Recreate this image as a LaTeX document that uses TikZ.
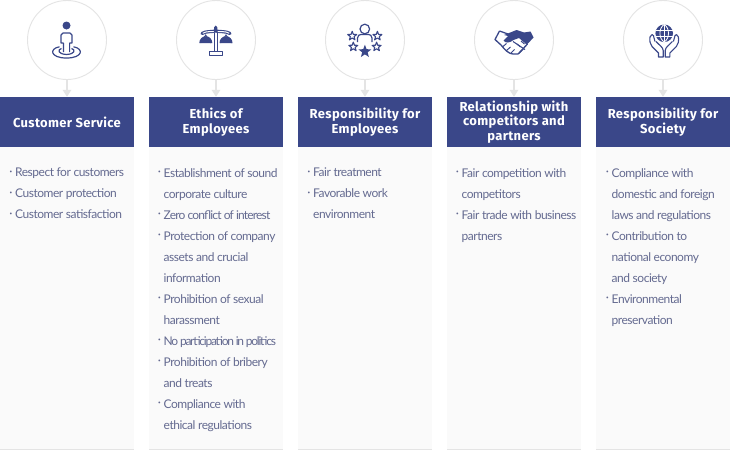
\documentclass[tikz,border=0pt]{standalone}
\usepackage{fontspec}
\setmainfont{Lato}[LetterSpace=-4]
\newfontfamily\headfont{Fira Sans}[LetterSpace=2.6]
\newfontfamily\tightfont{Lato}[LetterSpace=-10.5]
\usetikzlibrary{arrows.meta}
\definecolor{navy}{HTML}{3A4789}
\definecolor{ringgray}{HTML}{E4E4E4}
\definecolor{panelgray}{HTML}{FAFAFA}
\definecolor{bodytxt}{HTML}{646A90}
\newcommand{\bul}{\leavevmode\llap{\raisebox{1.5pt}{·}\hspace{2.6pt}}}
\tikzset{
  x=1pt,y=-1pt,
  ring/.style={circle,draw=ringgray,line width=.9pt,fill=white,minimum size=79pt,inner sep=0pt},
  headbox/.style={fill=navy,text=white,minimum width=134pt,minimum height=50pt,inner sep=0pt,align=center,
     font=\headfont\bfseries\fontsize{13}{14.5}\selectfont},
  panel/.style={fill=panelgray,minimum width=134pt,minimum height=303pt,inner sep=0pt},
  link/.style={draw=ringgray,line width=1.6pt,-{Triangle[length=7pt,width=8.5pt]}},
  bodytext/.style={anchor=north west,inner sep=0pt,align=left,text=bodytxt,
     font=\fontsize{12}{21}\selectfont},
  ico/.style={draw=navy,line width=1.2pt,fill=none,line join=round},
  pics/starmark/.style={code={
    \path[pic actions] (90:#1) -- (126:.42*#1) -- (162:#1) -- (198:.42*#1) -- (234:#1)
      -- (270:.42*#1) -- (306:#1) -- (342:.42*#1) -- (18:#1) -- (54:.42*#1) -- cycle;
  }},
}
\begin{document}
\begin{tikzpicture}
\useasboundingbox (0,0) rectangle (730,450);
\fill[white] (0,0) rectangle (730,450);
% panels
\foreach \n/\x in {a/67,b/216,c/365,d/514,e/663}{
  \node[panel] (panel\n) at (\x,298.5) {};
  \draw[ringgray,line width=.8pt] (\x-67,449.6) -- (\x+67,449.6);
}
% headers
\node[headbox] (ha) at (67,122) {Customer Service};
\node[headbox] (hb) at (216,122) {Ethics of\\Employees};
\node[headbox] (hc) at (365,122) {Responsibility for\\Employees};
\node[headbox] (hd) at (514,122) {Relationship with\\competitors and\\partners};
\node[headbox] (he) at (663,122) {Responsibility for\\Society};
% circles
\node[ring] (ca) at (67,40) {};
\node[ring] (cb) at (216,40) {};
\node[ring] (cc) at (365,40) {};
\node[ring] (cd) at (514,40) {};
\node[ring] (ce) at (663,40) {};
\foreach \n in {a,b,c,d,e}{ \draw[link] (c\n) -- (h\n); }
% body
\node[bodytext] (ta) at (15,168) {\bul Respect for customers\\\bul Customer protection\\\bul Customer satisfaction};
\node[bodytext] (tb) at (163.5,168) {\bul Establishment of sound\\corporate culture\\\bul {\addfontfeature{LetterSpace=-7}Zero conflict of interest}\\\bul Protection of company\\assets and crucial\\information\\\bul Prohibition of sexual\\harassment\\\bul {\tightfont No participation in politics}\\\bul Prohibition of bribery\\and treats\\\bul Compliance with\\ethical regulations};
\node[bodytext] (tc) at (313,168) {\bul Fair treatment\\\bul Favorable work\\environment};
\node[bodytext] (td) at (461.5,168) {\bul Fair competition with\\competitors\\\bul Fair trade with business\\partners};
\node[bodytext] (te) at (611.5,168) {\bul Compliance with\\domestic and foreign\\laws and regulations\\\bul Contribution to\\national economy\\and society\\\bul Environmental\\preservation};
% icon a: person on rings
\fill[navy] (66.5,25.5) circle (4);
\draw[ico] (63.4,52) -- (63.4,43) -- (61,43) -- (61,35) -- (63,33) -- (70,33) -- (72,35) -- (72,43) -- (69.6,43) -- (69.6,52);
\draw[ico] (61.5,48.5) .. controls (57.5,49.5) and (57.5,54) .. (66.5,54.5) .. controls (75.5,54) and (75.5,49.5) .. (71.5,48.5);
\draw[ico] (59.5,46.8) .. controls (49,48.5) and (50,58) .. (66.5,58) .. controls (83,58) and (84,48.5) .. (73.5,46.8);
% icon b: scales
\fill[navy] (214,27.5) -- (215.7,25.5) -- (217.4,27.5) -- (217.4,31) -- (214,31) -- cycle;
\draw[navy,line width=3.2pt,line cap=round] (202,33.5) .. controls (206,31) and (211,32) .. (215.7,31) .. controls (220,32) and (226,31) .. (230,33.5);
\draw[white,line width=1pt,line cap=round] (203,33.2) .. controls (206,31) and (211,32) .. (213.5,31.6) (218,31.6) .. controls (221,32) and (226,31) .. (229,33.2);
\draw[ico] (214.3,33) -- (214.3,51.7) (217.3,33) -- (217.3,51.7);
\draw[ico] (209.5,51.7) rectangle (222.3,55.3);
\draw[navy,line width=.9pt] (200.5,43) -- (205.7,35) -- (211,43) (220.5,43) -- (226,35) -- (231.5,43);
\fill[navy] (199.3,43) -- (212.3,43) arc[start angle=0,end angle=-180,x radius=6.5,y radius=6.8] -- cycle;
\fill[navy] (219.5,43) -- (232.5,43) arc[start angle=0,end angle=-180,x radius=6.5,y radius=6.8] -- cycle;
% icon c: person and stars
\draw[ico] (364.8,29) circle (4.8);
\draw[ico] (357.5,42) -- (357.5,38) .. controls (357.5,35.5) and (359.5,34.5) .. (361,34.5) -- (368.5,34.5) .. controls (370,34.5) and (372,35.5) .. (372,38) -- (372,42);
\pic[draw=navy,line width=1.1pt,line join=round,yscale=-1] at (352.2,36) {starmark=4.7};
\pic[draw=navy,line width=1.1pt,line join=round,yscale=-1] at (377.4,36) {starmark=4.7};
\pic[draw=navy,line width=1.1pt,line join=round,yscale=-1] at (353.3,46.8) {starmark=4.7};
\pic[draw=navy,line width=1.1pt,line join=round,yscale=-1] at (376.6,46.8) {starmark=4.7};
\pic[fill=navy,yscale=-1] at (364.9,51.5) {starmark=6.8};
% icon d: handshake
\draw[ico,line width=1.3pt] (499.5,31) -- (495,39.5) -- (501,45) .. controls (505,50) and (509,54) .. (513,54) -- (518,54) -- (527.5,44);
\draw[ico,line width=1.3pt] (499.5,31) -- (508,34);
\fill[navy] (504,35) -- (516.5,30) -- (524,32.5) -- (530.5,31.5) -- (533.5,37.5) -- (527.5,44) -- (526,44) -- (519,38) -- (513.5,40) .. controls (510,43) and (505,43.5) .. (503.5,40.5) -- (508,36) -- cycle;
\draw[ico,line width=1pt] (503,46.5) -- (506.5,43.5) (506.5,50.5) -- (510.5,47) (511,53) -- (514.5,49.5) (513,41.5) -- (525,49.5) (519,53.5) -- (523.5,49) ;
\draw[ico,line width=1pt] (517,44) -- (520.5,47) (521,41) -- (524.5,44);
% icon e: globe and hands
\fill[navy] (664.2,33.3) circle (8.8);
\draw[white,line width=.8pt] (664.2,24.5) -- (664.2,42) (655.6,30.6) -- (672.8,30.6) (655.6,36) -- (672.8,36);
\draw[white,line width=.8pt] (664.2,24.5) .. controls (658.5,28) and (658.5,38.5) .. (664.2,42);
\draw[white,line width=.8pt] (664.2,24.5) .. controls (669.9,28) and (669.9,38.5) .. (664.2,42);
\draw[ico,line width=1.1pt] (652,34.5) -- (650,37) .. controls (649.5,41) and (650,44) .. (652,46.5) -- (658.5,53) -- (658.5,57) -- (663.2,57) -- (663.2,50.5) .. controls (663,47) and (659,45) .. (656,41.5) (653.5,36) -- (655,41.5) (652,34.5) -- (653.8,36);
\draw[ico,line width=1.1pt] (676.4,34.5) -- (678.4,37) .. controls (678.9,41) and (678.4,44) .. (676.4,46.5) -- (669.9,53) -- (669.9,57) -- (665.2,57) -- (665.2,50.5) .. controls (665.4,47) and (669.4,45) .. (672.4,41.5) (674.9,36) -- (673.4,41.5) (676.4,34.5) -- (674.6,36);
\end{tikzpicture}
\end{document}
